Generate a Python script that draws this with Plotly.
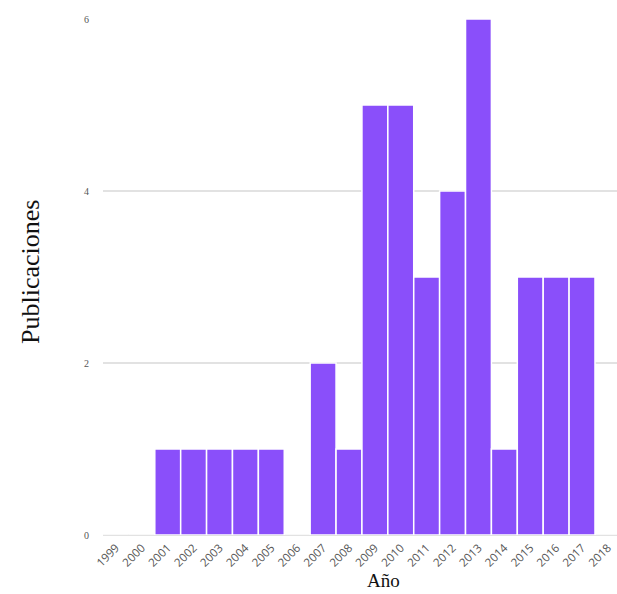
import plotly.graph_objects as go

years = [str(y) for y in range(1999, 2019)]
publicaciones = [0, 0, 1, 1, 1, 1, 1, 0, 2, 1, 5, 5, 3, 4, 6, 1, 3, 3, 3, 0]
y_ticks = [0, 2, 4, 6]

W, H = 617, 594
L, R, T, B = 103, 0, 19, 59

fig = go.Figure()
fig.add_trace(go.Bar(
    x=years, y=publicaciones,
    marker=dict(color="#8a4ffa", line=dict(color="white", width=1.5)),
    width=1.0,
    hoverinfo="skip",
))

fig.update_layout(
    width=W, height=H,
    margin=dict(l=L, r=R, t=T, b=B),
    paper_bgcolor="white", plot_bgcolor="white",
    showlegend=False,
    hovermode=False,
    bargap=0,
    font=dict(family="Liberation Serif", color="#444"),
    xaxis=dict(
        type="category", tickangle=-45,
        range=[-0.5, len(years) - 0.65],
        tickfont=dict(family="Open Sans, Arial", size=11.5, color="#555"),
        showgrid=False, zeroline=False, showline=False, ticks="",
        ticklabelstandoff=3,
    ),
    yaxis=dict(
        range=[0, 6], tickvals=y_ticks,
        tickfont=dict(family="Liberation Serif", size=10, color="#555"),
        showgrid=True, gridcolor="#e2e2e2", gridwidth=1.5,
        zeroline=True, zerolinecolor="#e2e2e2", zerolinewidth=1.5,
        showline=False, ticks="", ticklabelstandoff=13,
    ),
)

pw, ph = W - L - R, H - T - B
def px(xp):
    return (xp - L) / pw
def py(yp):
    return (H - B - yp) / ph

fig.add_annotation(text="Publicaciones", x=px(30), y=py(272), xref="paper", yref="paper",
                   xanchor="center", yanchor="middle", showarrow=False, textangle=-90,
                   font=dict(family="Liberation Serif", size=26, color="#111"))
fig.add_annotation(text="Año", x=px(383), y=py(580), xref="paper", yref="paper",
                   xanchor="center", yanchor="middle", showarrow=False,
                   font=dict(family="Liberation Serif", size=19, color="#111"))

# remove the default page margin so the figure fills the window exactly
fig.write_html(
    "out.html",
    config={"displayModeBar": False, "staticPlot": True},
    post_script="document.body.style.margin='0';document.body.style.overflow='hidden';",
)
